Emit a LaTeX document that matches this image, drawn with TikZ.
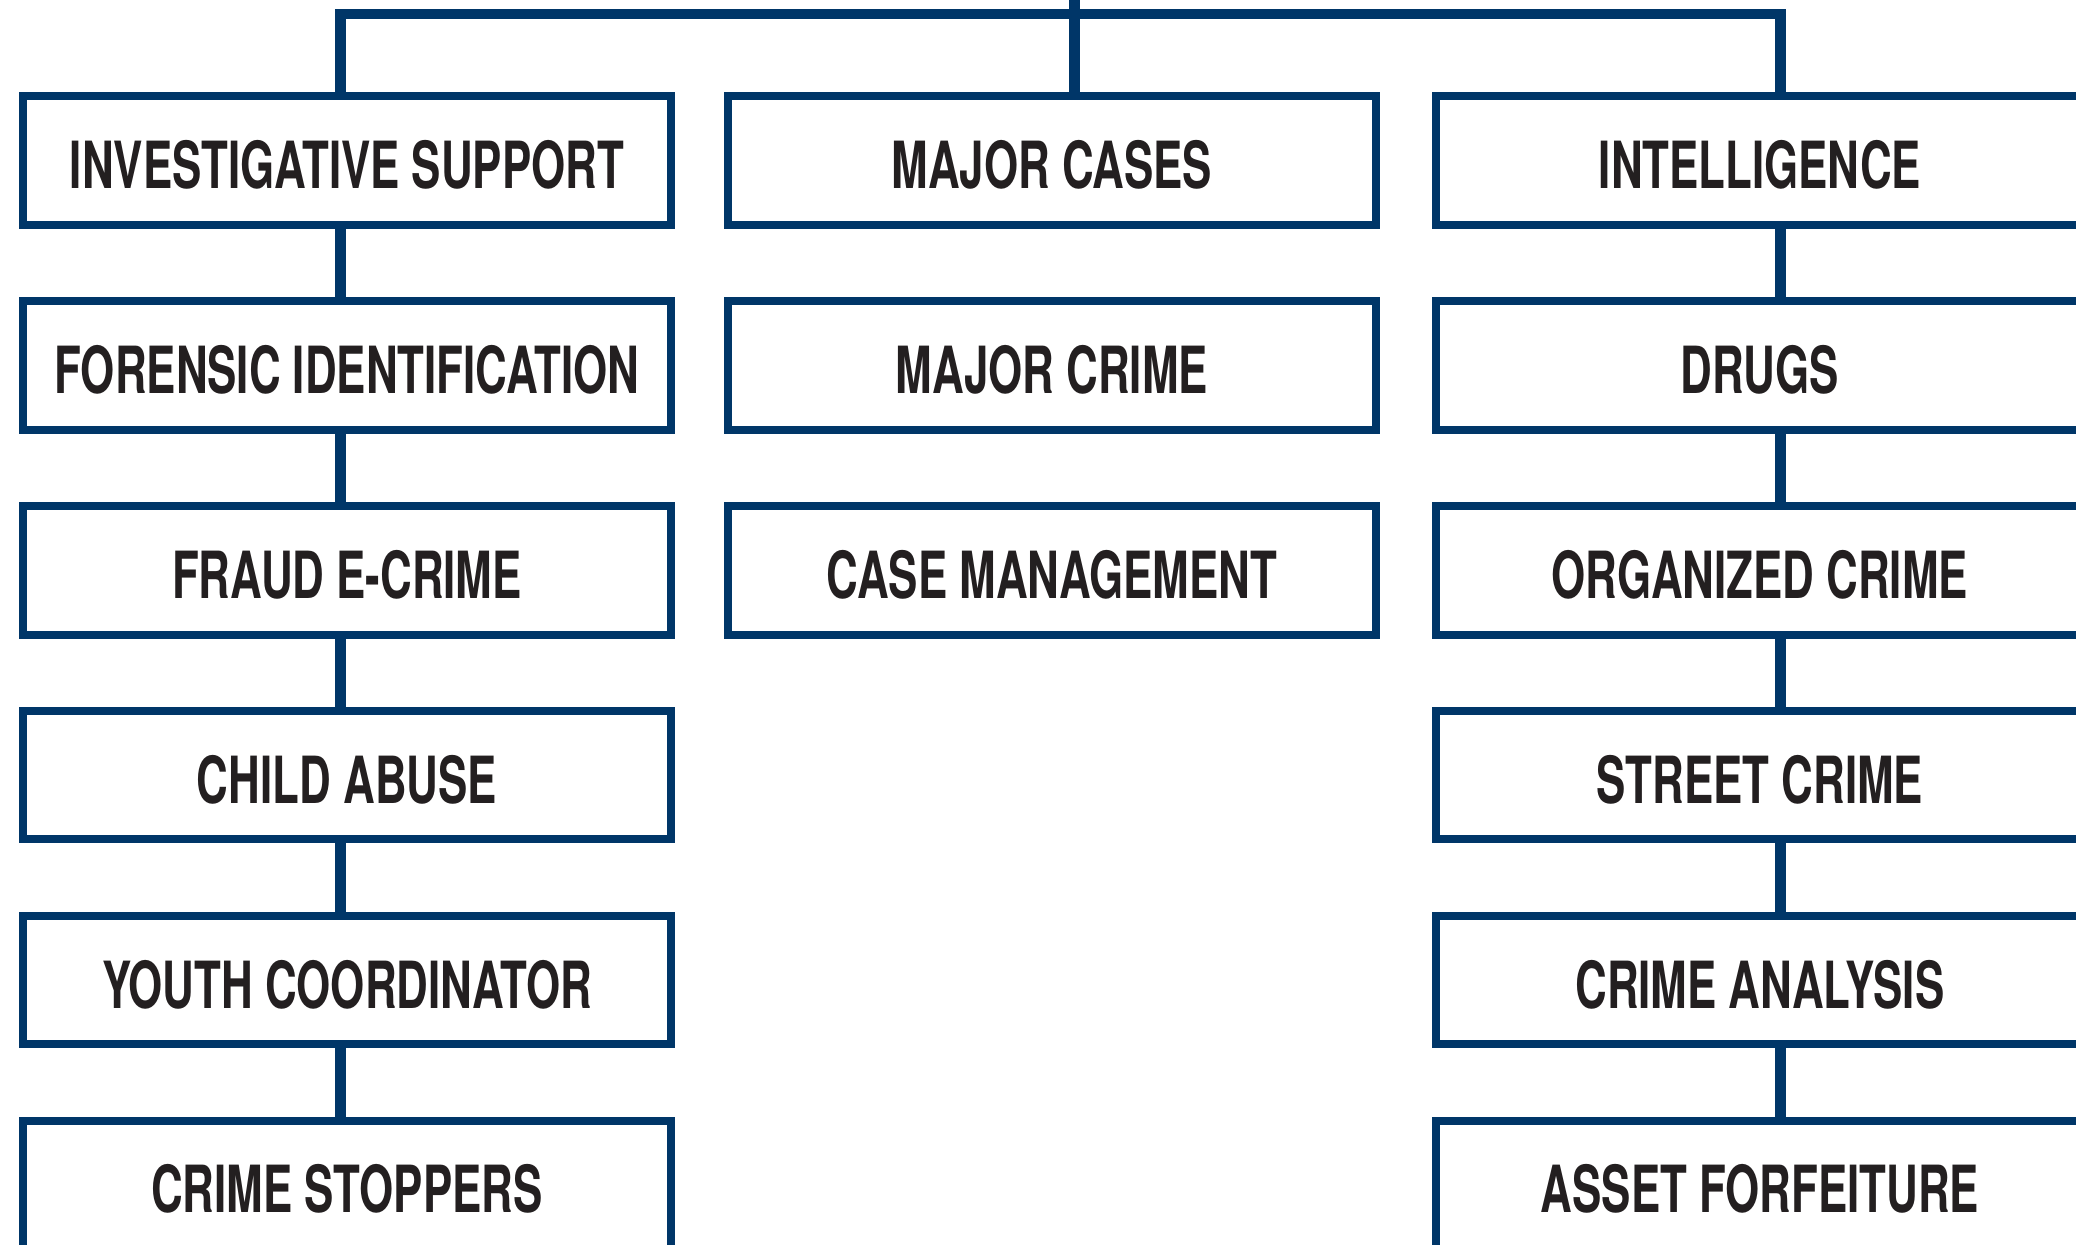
\documentclass[tikz,border=0pt]{standalone}
\usepackage{fontspec}
\newfontfamily\boxfont{TeX Gyre Heros}[FakeStretch=0.675]
\definecolor{navy}{HTML}{003668}
\definecolor{txt}{HTML}{231F20}
\tikzset{
  orgbox/.style={draw=navy, line width=4pt, fill=white, minimum width=324.2pt, minimum height=64.35pt,
    inner sep=0pt, text height=28.05pt, text depth=0pt, text=txt,
    font=\boxfont\bfseries\fontsize{32.5pt}{32.5pt}\selectfont},
  widebox/.style={orgbox, minimum width=407.1pt},
  lbl/.style={inner sep=0pt, text height=28.05pt, text depth=0pt, text=txt,
    font=\boxfont\bfseries\fontsize{32.5pt}{32.5pt}\selectfont},
  conn/.style={draw=navy, line width=5.35pt},
  bar/.style={draw=navy, line width=5.35pt}
}
\begin{document}
\begin{tikzpicture}[x=0.5pt,y=-0.5pt]
\useasboundingbox (0,0) rectangle (2076,1244);
\clip (0,0) rectangle (2076,1244);
% coordinates of connector lines
\coordinate (cL) at (340.2,14);
\coordinate (cM) at (1074.3,14);
\coordinate (cR) at (1780.8,14);
\coordinate (top) at (1074.3,-20);
% left column
\node[orgbox] (inv) at (347,160.35) {INVESTIGATIVE SUPPORT};
\node[orgbox] (for) at (347,365.25) {FORENSIC IDENTIFICATION};
\node[orgbox] (fra) at (347,570.15) {FRAUD E-CRIME};
\node[orgbox] (chi) at (347,775.05) {CHILD ABUSE};
\node[orgbox] (you) at (347,979.95) {YOUTH COORDINATOR};
\node[orgbox] (sto) at (347,1184.85) {CRIME STOPPERS};
% middle column
\node[orgbox] (mca) at (1051.9,160.35) {MAJOR CASES};
\node[orgbox] (mcr) at (1051.9,365.25) {MAJOR CRIME};
\node[orgbox] (cas) at (1051.9,570.15) {CASE MANAGEMENT};
% right column
\node[widebox] (int) at (1842.9,160.35) {};
\node[widebox] (dru) at (1842.9,365.25) {};
\node[widebox] (org) at (1842.9,570.15) {};
\node[widebox] (str) at (1842.9,775.05) {};
\node[widebox] (ana) at (1842.9,979.95) {};
\node[widebox] (ass) at (1842.9,1184.85) {};
\node[lbl] (intT) at (1759.9,160.35) {INTELLIGENCE};
\node[lbl] (druT) at (1759.9,365.25) {DRUGS};
\node[lbl] (orgT) at (1759.9,570.15) {ORGANIZED CRIME};
\node[lbl] (strT) at (1759.9,775.05) {STREET CRIME};
\node[lbl] (anaT) at (1759.9,979.95) {CRIME ANALYSIS};
\node[lbl] (assT) at (1759.9,1184.85) {ASSET FORFEITURE};
% top bar and trunk
\draw[bar] ([xshift=-2.675pt]cL) -- ([xshift=2.675pt]cR);
\draw[conn] (inv.north -| cL) -- ([yshift=2.675pt]cL);
\draw[conn] (int.north -| cR) -- ([yshift=2.675pt]cR);
\draw[conn] (mca.north -| cM) -- (top);
% left chain
\draw[conn] (inv.south -| cL) -- (for.north -| cL);
\draw[conn] (for.south -| cL) -- (fra.north -| cL);
\draw[conn] (fra.south -| cL) -- (chi.north -| cL);
\draw[conn] (chi.south -| cL) -- (you.north -| cL);
\draw[conn] (you.south -| cL) -- (sto.north -| cL);
% right chain
\draw[conn] (int.south -| cR) -- (dru.north -| cR);
\draw[conn] (dru.south -| cR) -- (org.north -| cR);
\draw[conn] (org.south -| cR) -- (str.north -| cR);
\draw[conn] (str.south -| cR) -- (ana.north -| cR);
\draw[conn] (ana.south -| cR) -- (ass.north -| cR);
\end{tikzpicture}
\end{document}
